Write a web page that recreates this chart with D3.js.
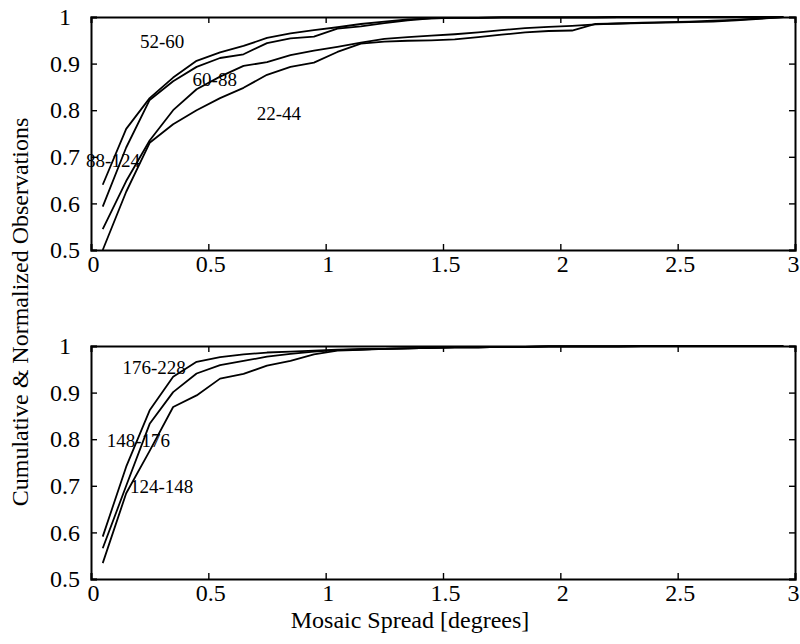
<!DOCTYPE html>
<html>
<head>
<meta charset="utf-8">
<script src="https://cdn.jsdelivr.net/npm/d3@7"></script>
<style>
  html, body { margin: 0; padding: 0; background: #fff; }
  svg { display: block; }
  text { font-family: "Liberation Serif", "DejaVu Serif", serif; fill: #000; }
</style>
</head>
<body>
<svg id="chart" width="800" height="644"></svg>
<script>
// Sample positions (degrees of mosaic spread)
const spread = [0.05, 0.15, 0.25, 0.35, 0.45, 0.55, 0.65, 0.75, 0.85, 0.95,
                1.05, 1.15, 1.25, 1.35, 1.45, 1.55, 1.65, 1.75, 1.85, 1.95,
                2.05, 2.15, 2.25, 2.35, 2.45, 2.55, 2.65, 2.75, 2.85, 2.95];

// Upper panel: cumulative normalized observations per group
const top52_60 = [0.640, 0.760, 0.826, 0.870, 0.906, 0.924, 0.938, 0.955, 0.965, 0.972,
                  0.978, 0.985, 0.990, 0.995, 0.997, 0.998, 0.998, 0.999, 0.999, 0.999,
                  0.999, 0.999, 1.000, 1.000, 1.000, 1.000, 1.000, 1.000, 1.000, 1.000];
const top60_88 = [0.593, 0.720, 0.822, 0.862, 0.893, 0.912, 0.920, 0.944, 0.954, 0.958,
                  0.975, 0.980, 0.987, 0.993, 0.997, 0.998, 0.998, 0.999, 0.999, 0.999,
                  0.999, 0.999, 1.000, 1.000, 1.000, 1.000, 1.000, 1.000, 1.000, 1.000];
const top88_124 = [0.545, 0.648, 0.735, 0.800, 0.845, 0.872, 0.895, 0.903, 0.918, 0.928,
                   0.936, 0.945, 0.953, 0.957, 0.960, 0.963, 0.967, 0.972, 0.976, 0.979,
                   0.981, 0.984, 0.986, 0.988, 0.989, 0.990, 0.992, 0.994, 0.997, 1.000];
const top22_44 = [0.500, 0.625, 0.730, 0.770, 0.800, 0.826, 0.848, 0.876, 0.893, 0.902,
                  0.925, 0.943, 0.947, 0.949, 0.950, 0.952, 0.957, 0.962, 0.967, 0.970,
                  0.971, 0.985, 0.986, 0.987, 0.988, 0.989, 0.990, 0.993, 0.996, 1.000];

// Lower panel
const bot176_228 = [0.591, 0.741, 0.862, 0.934, 0.966, 0.976, 0.982, 0.986, 0.988, 0.990,
                    0.992, 0.993, 0.994, 0.995, 0.996, 0.997, 0.997, 0.998, 0.998, 0.999,
                    0.999, 0.999, 0.999, 1.000, 1.000, 1.000, 1.000, 1.000, 1.000, 1.000];
const bot148_176 = [0.566, 0.700, 0.833, 0.901, 0.941, 0.959, 0.968, 0.977, 0.983, 0.988,
                    0.991, 0.993, 0.994, 0.995, 0.996, 0.997, 0.997, 0.998, 0.998, 0.999,
                    0.999, 0.999, 0.999, 1.000, 1.000, 1.000, 1.000, 1.000, 1.000, 1.000];
const bot124_148 = [0.534, 0.684, 0.775, 0.869, 0.894, 0.930, 0.940, 0.958, 0.968, 0.982,
                    0.990, 0.992, 0.994, 0.995, 0.996, 0.997, 0.997, 0.998, 0.998, 0.999,
                    0.999, 0.999, 0.999, 1.000, 1.000, 1.000, 1.000, 1.000, 1.000, 1.000];

const xTicks = [0, 0.5, 1, 1.5, 2, 2.5, 3];
const yTicks = [0.5, 0.6, 0.7, 0.8, 0.9, 1];

const panels = [
  {
    top: 17, bottom: 250,
    series: [top52_60, top60_88, top88_124, top22_44],
    labels: [
      { text: "52-60",  x: 0.209, y: 0.9335 },
      { text: "60-88",  x: 0.433, y: 0.852 },
      { text: "22-44",  x: 0.706, y: 0.779 },
      { text: "88-124", x: -0.021, y: 0.679 }
    ]
  },
  {
    top: 346, bottom: 579,
    series: [bot176_228, bot148_176, bot124_148],
    labels: [
      { text: "176-228", x: 0.134, y: 0.940 },
      { text: "148-176", x: 0.067, y: 0.784 },
      { text: "124-148", x: 0.166, y: 0.684 }
    ]
  }
];

const svg = d3.select("#chart");
const left = 91, right = 795;

const x = d3.scaleLinear().domain([0, 3]).range([left, right]);

panels.forEach(p => {
  const y = d3.scaleLinear().domain([0.5, 1]).range([p.bottom, p.top]);
  const g = svg.append("g");

  const line = d3.line()
    .x((d, i) => x(spread[i]))
    .y(d => y(d));

  // curves
  p.series.forEach(s => {
    g.append("path")
      .datum(s)
      .attr("d", line)
      .attr("fill", "none")
      .attr("stroke", "#000")
      .attr("stroke-width", 1.8)
      .attr("stroke-linejoin", "round");
  });

  // axes with inward ticks on all four sides
  const ax = [
    d3.axisBottom(x).tickValues(xTicks).tickSize(-6).tickPadding(5).tickFormat(d3.format("")),
    d3.axisTop(x).tickValues(xTicks).tickSize(-6).tickFormat(""),
    d3.axisLeft(y).tickValues(yTicks).tickSize(-6).tickPadding(12).tickFormat(d3.format("")),
    d3.axisRight(y).tickValues(yTicks).tickSize(-6).tickFormat("")
  ];
  const pos = [
    `translate(0,${p.bottom})`, `translate(0,${p.top})`,
    `translate(${left},0)`, `translate(${right},0)`
  ];
  ax.forEach((a, i) => {
    const ag = g.append("g").attr("transform", pos[i]).call(a);
    ag.attr("font-size", null).attr("font-family", null);
    ag.select(".domain").attr("stroke", "#000").attr("stroke-width", 2);
    ag.selectAll(".tick line").attr("stroke", "#000").attr("stroke-width", 1.4);
    ag.selectAll(".tick text")
      .style("font-family", "'Liberation Serif', serif")
      .style("font-size", "24px")
      .attr("fill", "#000");
    if (i === 0) {
      ag.selectAll(".tick text").attr("x", 2);
      // keep the last label inside the frame edge
      ag.selectAll(".tick text").filter(d => d === 3)
        .attr("text-anchor", "end").attr("x", 4);
    }
    if (i === 2) {
      ag.selectAll(".tick text").attr("text-anchor", "middle").attr("x", -26);
    }
  });

  // curve labels
  p.labels.forEach(l => {
    g.append("text")
      .attr("x", x(l.x))
      .attr("y", y(l.y))
      .style("font-size", "19px")
      .text(l.text);
  });
});

// axis titles
svg.append("text")
  .attr("x", 410).attr("y", 628)
  .attr("text-anchor", "middle")
  .style("font-size", "24px")
  .text("Mosaic Spread [degrees]");

svg.append("text")
  .attr("transform", "translate(28,312) rotate(-90)")
  .attr("text-anchor", "middle")
  .style("font-size", "24px")
  .text("Cumulative & Normalized Observations");
</script>
</body>
</html>
